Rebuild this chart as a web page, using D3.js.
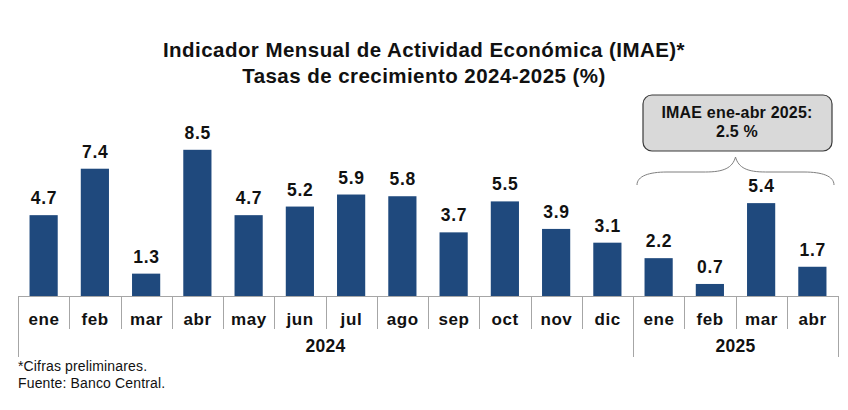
<!DOCTYPE html>
<html>
<head>
<meta charset="utf-8">
<script src="https://cdn.jsdelivr.net/npm/d3@7"></script>
<style>
  html, body { margin: 0; padding: 0; background: #fff; }
  svg { display: block; font-family: "Liberation Sans", Arial, sans-serif; }
</style>
</head>
<body>
<div id="chart"></div>
<script>
const months = ["ene", "feb", "mar", "abr", "may", "jun", "jul", "ago", "sep", "oct", "nov", "dic", "ene", "feb", "mar", "abr"]
const years = ["2024", "2024", "2024", "2024", "2024", "2024", "2024", "2024", "2024", "2024", "2024", "2024", "2025", "2025", "2025", "2025"]
const values = [4.7, 7.4, 1.3, 8.5, 4.7, 5.2, 5.9, 5.8, 3.7, 5.5, 3.9, 3.1, 2.2, 0.7, 5.4, 1.7]
const yearLabels = ["2024", "2025"]
const titleLines = ["Indicador Mensual de Actividad Económica (IMAE)*", "Tasas de crecimiento 2024-2025 (%)"]
const calloutLines = ["IMAE ene-abr 2025:", "2.5 %"]
const notes = ["*Cifras preliminares.", "Fuente: Banco Central."]

const width = 848, height = 410
const base = 296
const barColor = "#1f497d"
const lineColor = "#a6a6a6"

const svg = d3.select("#chart").append("svg")
  .attr("width", width)
  .attr("height", height)

const idx = d3.range(values.length)
const x = d3.scaleBand().domain(idx).range([18, 838]).paddingInner(0.45).paddingOuter(0.225)
const step = x.step()
const left = x.range()[0]
const bandLeft = i => left + i * step

const y = d3.scaleLinear().domain([0, 10]).range([base, base - 172])

// titulo
svg.append("g")
  .attr("font-weight", "bold")
  .attr("font-size", 20.5)
  .attr("letter-spacing", 0.45)
  .attr("fill", "#111")
  .attr("text-anchor", "middle")
  .selectAll("text")
  .data(titleLines)
  .join("text")
  .attr("x", 424)
  .attr("y", (d, i) => 57 + i * 26)
  .text(d => d)

// barras
svg.append("g")
  .selectAll("rect")
  .data(idx)
  .join("rect")
  .attr("x", i => x(i))
  .attr("y", i => y(values[i]))
  .attr("width", x.bandwidth())
  .attr("height", i => y(0) - y(values[i]))
  .attr("fill", barColor)

svg.append("g")
  .attr("font-weight", "bold")
  .attr("font-size", 17.5)
  .attr("letter-spacing", 0.8)
  .attr("fill", "#111")
  .attr("text-anchor", "middle")
  .selectAll("text")
  .data(idx)
  .join("text")
  .attr("x", i => x(i) + x.bandwidth() / 2 + 0.4)
  .attr("y", i => y(values[i]) - 11)
  .text(i => values[i].toFixed(1))

// eje
const axis = svg.append("g")
  .attr("stroke", lineColor)
  .attr("stroke-width", 1)
  .attr("shape-rendering", "crispEdges")

axis.append("line")
  .attr("x1", left).attr("x2", x.range()[1])
  .attr("y1", base + 0.5).attr("y2", base + 0.5)

// separadores de meses y de años
const yearBreaks = idx.filter(i => i === 0 || years[i] !== years[i - 1]).concat([values.length])
axis.selectAll("line.tick")
  .data(d3.range(values.length + 1))
  .join("line")
  .attr("class", "tick")
  .attr("x1", i => Math.round(bandLeft(i)) + 0.5)
  .attr("x2", i => Math.round(bandLeft(i)) + 0.5)
  .attr("y1", base)
  .attr("y2", i => yearBreaks.includes(i) ? 357 : 329)

svg.append("g")
  .attr("font-weight", "bold")
  .attr("font-size", 17)
  .attr("letter-spacing", 0.6)
  .attr("fill", "#111")
  .attr("text-anchor", "middle")
  .selectAll("text")
  .data(idx)
  .join("text")
  .attr("x", i => bandLeft(i) + step / 2 + 0.3)
  .attr("y", 325)
  .text(i => months[i])

svg.append("g")
  .attr("font-weight", "bold")
  .attr("font-size", 17.5)
  .attr("letter-spacing", 0.3)
  .attr("fill", "#111")
  .attr("text-anchor", "middle")
  .selectAll("text")
  .data(yearLabels)
  .join("text")
  .attr("x", yr => {
    const first = years.indexOf(yr), last = years.lastIndexOf(yr)
    return (bandLeft(first) + bandLeft(last + 1)) / 2
  })
  .attr("y", 352)
  .text(d => d)

// llave y recuadro 2025
const first25 = years.indexOf("2025")
const bx0 = bandLeft(first25) + 4
const bx1 = bandLeft(values.length) - 4
const bm = (bx0 + bx1) / 2
const bp = d3.path()
bp.moveTo(bx0, 185)
bp.bezierCurveTo(bx0, 176, bx0 + 12, 172, bx0 + 30, 172)
bp.lineTo(bm - 30, 172)
bp.bezierCurveTo(bm - 12, 172, bm - 3, 168, bm, 157)
bp.bezierCurveTo(bm + 3, 168, bm + 12, 172, bm + 30, 172)
bp.lineTo(bx1 - 30, 172)
bp.bezierCurveTo(bx1 - 12, 172, bx1, 176, bx1, 185)
svg.append("path")
  .attr("d", bp.toString())
  .attr("fill", "none")
  .attr("stroke", "#7f7f7f")
  .attr("stroke-width", 1)

svg.append("rect")
  .attr("x", 643)
  .attr("y", 95)
  .attr("width", 189)
  .attr("height", 56)
  .attr("rx", 9)
  .attr("fill", "#d9d9d9")
  .attr("stroke", "#3a3a3a")
  .attr("stroke-width", 1.2)

svg.append("g")
  .attr("font-weight", "bold")
  .attr("font-size", 16)
  .attr("letter-spacing", 0.2)
  .attr("fill", "#111")
  .attr("text-anchor", "middle")
  .selectAll("text")
  .data(calloutLines)
  .join("text")
  .attr("x", 737)
  .attr("y", (d, i) => 118 + i * 19)
  .text(d => d)

// notas
svg.append("g")
  .attr("font-size", 14)
  .attr("letter-spacing", 0.15)
  .attr("fill", "#111")
  .selectAll("text")
  .data(notes)
  .join("text")
  .attr("x", 18)
  .attr("y", (d, i) => 371 + i * 17)
  .text(d => d)
</script>
</body>
</html>
